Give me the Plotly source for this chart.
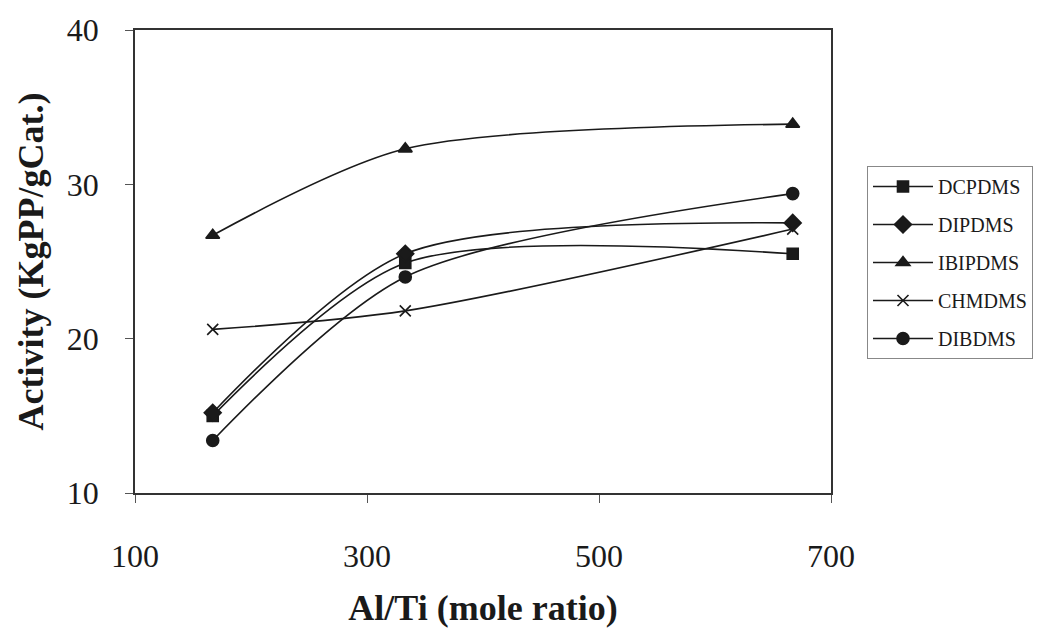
import plotly.graph_objects as go

# Al/Ti mole ratios tested
al_ti = [167, 333, 667]

# Catalyst activity (KgPP/gCat.) for each external donor
dcpdms = [15.0, 24.9, 25.5]
dipdms = [15.2, 25.5, 27.5]
ibipdms = [26.7, 32.3, 33.9]
chmdms = [20.6, 21.8, 27.1]
dibdms = [13.4, 24.0, 29.4]

series = [
    ("DCPDMS", dcpdms, "square", 11),
    ("DIPDMS", dipdms, "diamond", 13),
    ("IBIPDMS", ibipdms, "triangle-up", 12),
    ("CHMDMS", chmdms, "x-thin", 11),
    ("DIBDMS", dibdms, "circle", 12),
]

x_ticks = [100, 300, 500, 700]
y_ticks = [10, 20, 30, 40]

ink = "#1a1a1a"
serif = "Liberation Serif, Times New Roman, serif"

fig = go.Figure()
for i, (name, vals, sym, size) in enumerate(series):
    fig.add_trace(go.Scatter(
        x=al_ti, y=vals, name=name, mode="lines+markers",
        legendgroup=f"g{i}",
        line=dict(color=ink, width=1.6, shape="spline", smoothing=0.8),
        marker=dict(symbol=sym, size=size, color=ink,
                    line=dict(color=ink, width=1.6)),
    ))

axis_common = dict(
    showgrid=False, zeroline=False, showline=True, mirror=True,
    linecolor="#333333", linewidth=1.5,
    ticks="outside", ticklen=8, tickcolor="#555555", tickwidth=1,
    tickfont=dict(family=serif, size=32, color=ink),
)

fig.update_layout(
    width=1045, height=633,
    margin=dict(l=135, r=191, t=26, b=140),
    paper_bgcolor="white", plot_bgcolor="white",
    xaxis=dict(range=[100, 700], tickvals=x_ticks, ticklabelstandoff=26,
               title=dict(text="<b>Al/Ti (mole ratio)</b>", standoff=22,
                          font=dict(family=serif, size=36, color=ink)),
               **axis_common),
    yaxis=dict(range=[10, 40], tickvals=y_ticks, ticklabelstandoff=20,
               title=dict(text="<b>Activity (KgPP/gCat.)</b>", standoff=12,
                          font=dict(family=serif, size=36, color=ink)),
               **axis_common),
    legend=dict(
        x=867 / 1045, xref="container", y=1 - 166 / 633, yref="container",
        xanchor="left", yanchor="top",
        bordercolor="#888888", borderwidth=1, bgcolor="white",
        font=dict(family=serif, size=20, color=ink),
        itemwidth=60,
        tracegroupgap=9, traceorder="grouped",
    ),
)

fig.write_html("out.html")
